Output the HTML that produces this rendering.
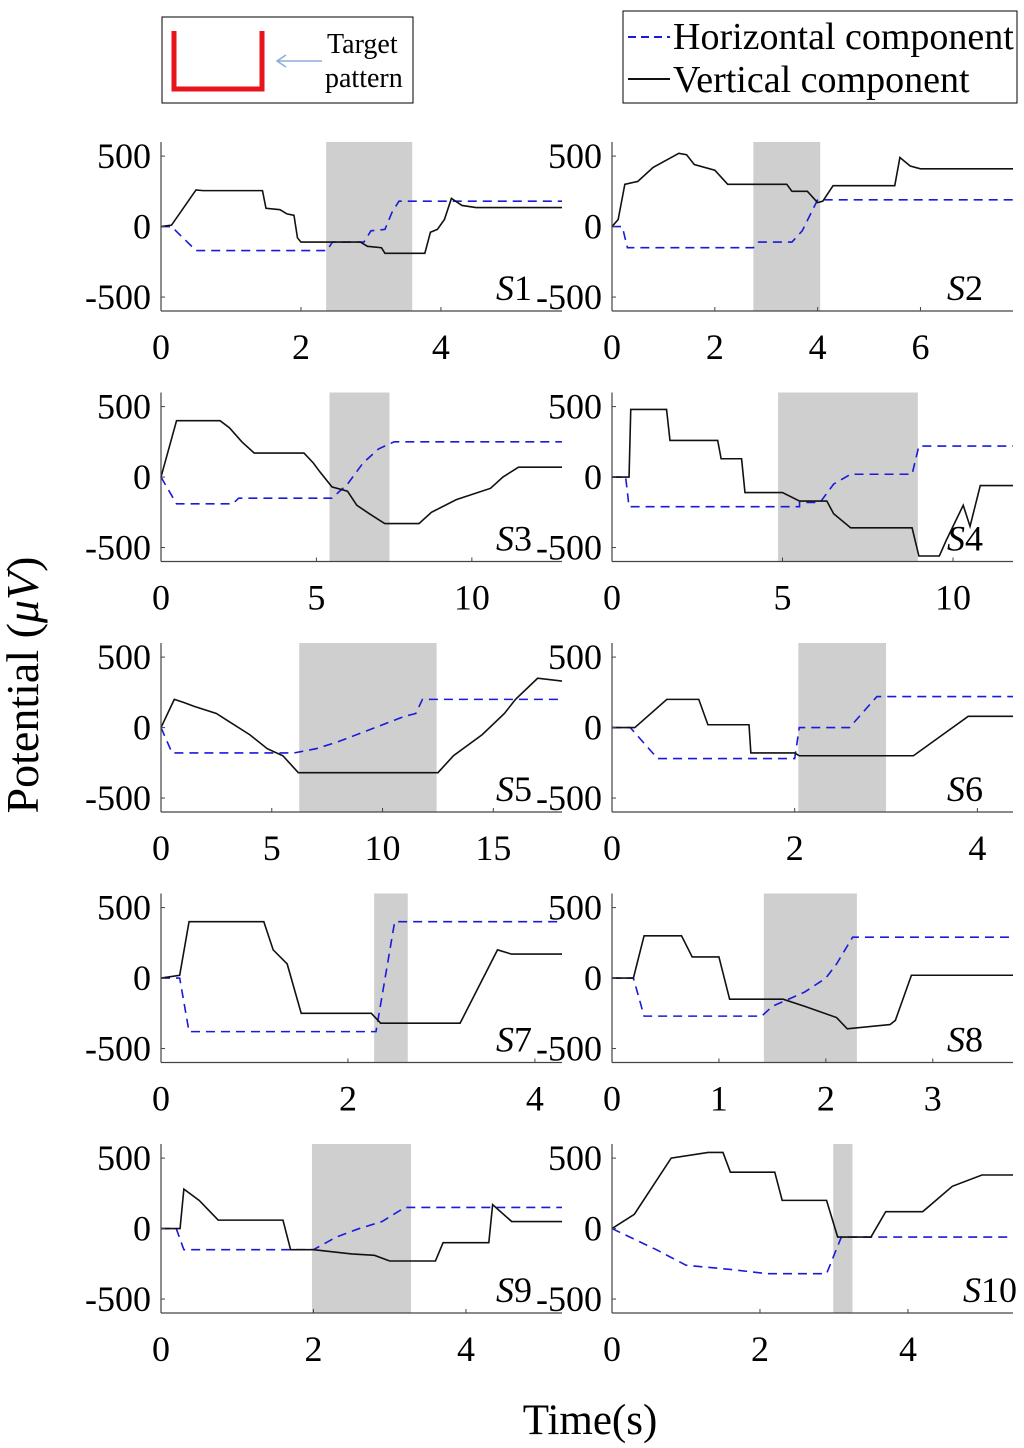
<!DOCTYPE html>
<html><head><meta charset="utf-8"><style>
html,body{margin:0;padding:0;background:#fff;}
svg{display:block;font-family:"Liberation Serif",serif;}
</style></head><body>
<svg id="fig" width="1024" height="1448" viewBox="0 0 1024 1448" xmlns="http://www.w3.org/2000/svg">
<g>
<rect x="162" y="17" width="251" height="86" fill="#fff" stroke="#000" stroke-width="1"/>
<polyline points="174,31 174,89 262,89 262,31" fill="none" stroke="#e8141b" stroke-width="5"/>
<line x1="322" y1="61" x2="278" y2="61" stroke="#8aaed8" stroke-width="1.5"/>
<polyline points="286,55 277,61 286,67" fill="none" stroke="#8aaed8" stroke-width="1.5"/>
<text x="327" y="53" font-size="28">Target</text>
<text x="325" y="87" font-size="28">pattern</text>
</g>
<g>
<rect x="623" y="11" width="394" height="92" fill="#fff" stroke="#000" stroke-width="1"/>
<line x1="628" y1="37" x2="670" y2="37" stroke="#1a1adb" stroke-width="2" stroke-dasharray="8,5"/>
<text x="673" y="49" font-size="38">Horizontal component</text>
<line x1="628" y1="79" x2="670" y2="79" stroke="#111" stroke-width="2"/>
<text x="673" y="92" font-size="38">Vertical component</text>
</g>
<text transform="translate(38,685) rotate(-90)" text-anchor="middle" font-size="46">Potential (<tspan font-style="italic">μV</tspan>)</text>
<text x="590" y="1434" text-anchor="middle" font-size="43">Time(s)</text>
</svg>
<script>
const panelNames = ["S1","S2","S3","S4","S5","S6","S7","S8","S9","S10"];
const xMaxes = [5.73,7.8,12.9,11.76,18.1,4.39,4.29,3.75,5.26,5.42];
const xTickSets = [[0,2,4],[0,2,4,6],[0,5,10],[0,5,10],[0,5,10,15],[0,2,4],[0,2,4],[0,1,2,3],[0,2,4],[0,2,4]];
const yTicks = [-500,0,500];
const shades = [[2.36,3.59],[2.75,4.05],[5.42,7.35],[4.87,8.97],[6.24,12.44],[2.04,3.0],[2.28,2.64],[1.42,2.29],[1.98,3.28],[2.99,3.25]];
const verticalSeries = [
 [[0,0],[0.15,10],[0.5,260],[0.6,255],[1.45,255],[1.5,130],[1.7,120],[1.8,90],[1.9,80],[1.95,-80],[2.0,-110],[2.85,-110],[2.95,-140],[3.15,-150],[3.2,-190],[3.77,-190],[3.85,-40],[3.95,-20],[4.05,50],[4.15,200],[4.3,150],[4.5,135],[5.73,135]],
 [[0,0],[0.12,50],[0.25,300],[0.5,320],[0.8,420],[1.3,520],[1.45,510],[1.6,440],[2.0,400],[2.2,320],[2.25,300],[3.4,300],[3.5,250],[3.8,250],[4.0,170],[4.1,180],[4.3,290],[5.5,290],[5.6,490],[5.8,430],[6.0,410],[7.8,410]],
 [[0,0],[0.5,400],[1.9,400],[2.2,350],[2.6,250],[3.0,170],[4.6,170],[4.9,100],[5.1,40],[5.5,-70],[6.0,-100],[6.3,-200],[6.7,-260],[7.2,-330],[8.3,-330],[8.7,-250],[9.5,-160],[10.6,-80],[11.0,0],[11.5,70],[12.9,70]],
 [[0,0],[0.5,0],[0.55,480],[1.6,480],[1.7,260],[3.1,260],[3.2,130],[3.8,130],[3.9,-110],[5.0,-110],[5.5,-170],[6.3,-170],[6.5,-260],[7.0,-360],[8.8,-360],[9.0,-560],[9.6,-560],[9.8,-450],[10.3,-200],[10.5,-350],[10.8,-60],[11.76,-60]],
 [[0,0],[0.6,200],[1.0,180],[1.5,150],[2.5,100],[3.0,50],[4.0,-50],[4.8,-150],[5.5,-200],[6.2,-320],[12.5,-320],[13.2,-200],[14.5,-50],[15.5,100],[16.0,200],[17.0,350],[18.1,330]],
 [[0,0],[0.25,0],[0.6,200],[0.95,200],[1.05,20],[1.5,20],[1.52,-180],[2.0,-180],[2.05,-200],[3.3,-200],[3.6,-60],[3.9,80],[4.39,80]],
 [[0,0],[0.2,20],[0.3,400],[1.1,400],[1.2,200],[1.35,100],[1.5,-250],[2.25,-250],[2.35,-320],[3.2,-320],[3.6,200],[3.75,170],[4.29,170]],
 [[0,0],[0.2,0],[0.3,300],[0.65,300],[0.75,150],[1.0,150],[1.1,-150],[1.6,-150],[1.8,-200],[2.1,-280],[2.2,-360],[2.6,-330],[2.65,-300],[2.8,20],[3.75,20]],
 [[0,0],[0.25,0],[0.3,280],[0.5,200],[0.75,60],[1.6,60],[1.7,-150],[2.0,-150],[2.5,-180],[2.8,-190],[3.0,-230],[3.6,-230],[3.7,-100],[4.3,-100],[4.35,170],[4.6,50],[5.26,50]],
 [[0,0],[0.3,100],[0.8,500],[1.3,540],[1.5,540],[1.6,400],[2.2,400],[2.3,200],[2.9,200],[3.05,-60],[3.5,-60],[3.7,120],[4.2,120],[4.6,300],[5.0,380],[5.42,380]]
];
const horizontalSeries = [
 [[0,0],[0.15,0],[0.5,-170],[2.37,-170],[2.45,-110],[2.9,-110],[3.0,-30],[3.2,-20],[3.3,100],[3.4,180],[5.73,180]],
 [[0,0],[0.2,0],[0.3,-150],[2.75,-150],[2.85,-110],[3.5,-110],[3.7,-30],[4.0,190],[7.8,190]],
 [[0,0],[0.5,-190],[2.3,-190],[2.5,-150],[5.5,-150],[6.0,-50],[6.5,100],[7.0,200],[7.5,250],[12.9,250]],
 [[0,0],[0.4,0],[0.5,-210],[5.5,-210],[5.5,-180],[6.1,-180],[6.5,-50],[7.0,20],[8.8,20],[9.0,220],[11.76,220]],
 [[0,0],[0.5,-180],[6.0,-180],[7.0,-150],[8.0,-100],[9.0,-40],[10.0,20],[11.0,80],[11.5,100],[11.8,200],[18.1,200]],
 [[0,0],[0.2,0],[0.5,-220],[2.0,-220],[2.05,0],[2.6,0],[2.9,220],[4.39,220]],
 [[0,0],[0.2,0],[0.3,-380],[2.3,-380],[2.5,400],[4.29,400]],
 [[0,0],[0.2,0],[0.3,-270],[1.4,-270],[1.5,-200],[1.8,-100],[2.0,0],[2.1,100],[2.25,290],[3.75,290]],
 [[0,0],[0.2,0],[0.3,-150],[2.0,-150],[2.3,-60],[2.6,0],[2.9,50],[3.2,150],[5.26,150]],
 [[0,0],[0.6,-150],[1.0,-260],[1.6,-290],[2.1,-320],[2.9,-320],[3.1,-60],[5.42,-60]]
];

const NS="http://www.w3.org/2000/svg";
const svg=document.getElementById('fig');
function mk(tag,attrs,parent){const e=document.createElementNS(NS,tag);for(const k in attrs)e.setAttribute(k,attrs[k]);parent.appendChild(e);return e;}
const colX=[161,612], W=401, H=169, rowTop=142, rowStep=250.5;
const yMin=-599, yMax=600;
panelNames.forEach((name,i)=>{
  const col=i%2,row=Math.floor(i/2);
  const x0=colX[col], y0=rowTop+row*rowStep;
  const g=mk('g',{},svg);
  
  
  const sx=t=>x0+t/xMaxes[i]*W;
  const sy=v=>y0+(yMax-v)/(yMax-yMin)*H;
  const sh=mk('rect',{x:sx(shades[i][0]),y:y0,width:sx(shades[i][1])-sx(shades[i][0]),height:H,fill:'#cfcfcf'},g);
  
  
  const hp=mk('polyline',{points:horizontalSeries[i].map(p=>sx(p[0])+','+sy(p[1])).join(' '),fill:'none',stroke:'#1a1adb','stroke-width':1.6,'stroke-dasharray':'9,6'},g);
  
  
  const vp=mk('polyline',{points:verticalSeries[i].map(p=>sx(p[0])+','+sy(p[1])).join(' '),fill:'none',stroke:'#111','stroke-width':1.6},g);
  
  
  mk('line',{x1:x0,y1:y0,x2:x0,y2:y0+H,stroke:'#444','stroke-width':1.2},g);
  mk('line',{x1:x0,y1:y0+H,x2:x0+W,y2:y0+H,stroke:'#444','stroke-width':1.2},g);
  yTicks.forEach(v=>{
    mk('line',{x1:x0,y1:sy(v),x2:x0+4,y2:sy(v),stroke:'#444','stroke-width':1},g);
    const t=mk('text',{x:x0-10,y:sy(v)+12,'text-anchor':'end','font-size':36},g);
    t.textContent=v;
    
    
  });
  xTickSets[i].forEach(v=>{
    mk('line',{x1:sx(v),y1:y0+H,x2:sx(v),y2:y0+H-4,stroke:'#444','stroke-width':1},g);
    const t=mk('text',{x:sx(v),y:y0+H+48,'text-anchor':'middle','font-size':36},g);
    t.textContent=v;
    
    
  });
  const lb=mk('text',{x:x0+W+(i===9?4:-30),y:y0+H-11,'text-anchor':'end','font-size':36},g);
  lb.innerHTML='<tspan font-style="italic">S</tspan>'+name.slice(1);
  
  
});
</script>
</body></html>
